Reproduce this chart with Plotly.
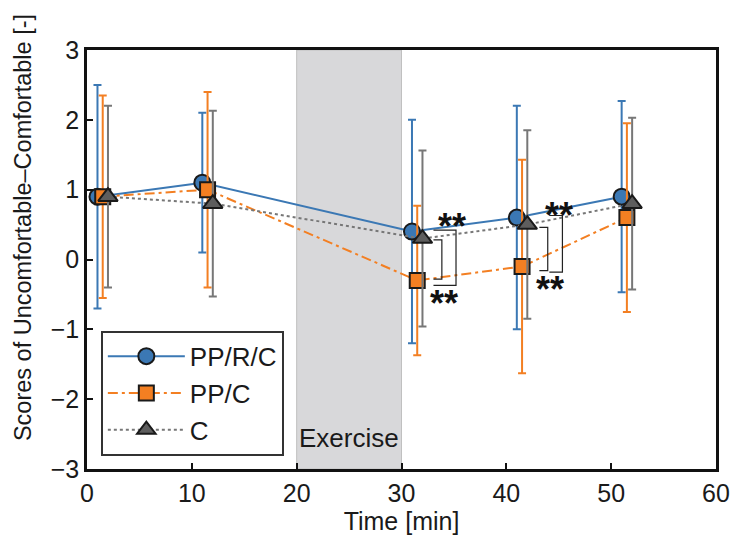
import plotly.graph_objects as go

# ---- data ----
times = [1, 11, 31, 41, 51]
offsets = {"PP/R/C": 0.0, "PP/C": 0.5, "C": 1.0}
mean_prc = [0.9, 1.1, 0.4, 0.6, 0.9]
sd_prc = [1.6, 1.0, 1.6, 1.6, 1.37]
mean_pc = [0.9, 1.0, -0.3, -0.1, 0.6]
sd_pc = [1.45, 1.4, 1.07, 1.53, 1.35]
mean_c = [0.9, 0.8, 0.3, 0.5, 0.8]
sd_c = [1.3, 1.33, 1.26, 1.35, 1.23]

exercise_start, exercise_end = 20, 30
x_ticks = [0, 10, 20, 30, 40, 50, 60]
y_ticks = [-3, -2, -1, 0, 1, 2, 3]

# significance brackets: (x0, x1, y_top, y_bottom)
brackets = [
    (33.05, 35.2, 0.42, -0.37),
    (33.05, 33.85, 0.28, -0.28),
    (44.1, 45.35, 0.63, -0.18),
    (43.15, 43.95, 0.46, -0.16),
]
# asterisk labels: (x, y)
stars = [(34.8, 0.6), (34.1, -0.5), (45.0, 0.76), (44.2, -0.3)]

FONT = "Liberation Sans, Arial, sans-serif"
BLUE = "#3b78b4"
ORANGE = "#f37f22"
GRAY_LINE = "#777777"
GRAY_FILL = "#5e5e5e"
TXT = "#1a1a1a"

fig = go.Figure()

series = [
    ("PP/R/C", mean_prc, sd_prc, BLUE, BLUE, "circle", "solid", 16),
    ("PP/C", mean_pc, sd_pc, ORANGE, ORANGE, "square", "10px,4px,3px,4px", 15),
    ("C", mean_c, sd_c, GRAY_LINE, GRAY_FILL, "triangle-up", "3px,3px", 17),
]
for name, m, s, lc, fc, sym, dash, sz in series:
    xs = [t + offsets[name] for t in times]
    fig.add_trace(go.Scatter(
        x=xs, y=m, name=name, mode="lines+markers",
        line=dict(color=lc, width=2, dash=dash),
        marker=dict(symbol=sym, size=sz, color=fc,
                    line=dict(color="#1a1a1a", width=2)),
        error_y=dict(type="data", array=s, visible=True, color=lc,
                     thickness=2, width=4),
    ))

# exercise shading
fig.add_shape(type="rect", xref="x", yref="paper", x0=exercise_start, x1=exercise_end,
              y0=0, y1=1, fillcolor="#d8d8da", line=dict(color="#c0c0c0", width=1),
              layer="below")
fig.add_annotation(x=(exercise_start + exercise_end) / 2, y=-2.56, text="Exercise",
                   showarrow=False, font=dict(family=FONT, size=26, color=TXT))

# brackets
for x0, x1, yt, yb in brackets:
    fig.add_shape(type="path",
                  path=f"M {x0},{yt} L {x1},{yt} L {x1},{yb} L {x0},{yb}",
                  line=dict(color="#222222", width=1.2))
for sx, sy in stars:
    fig.add_annotation(x=sx, y=sy, text="<b>**</b>", showarrow=False, yshift=-9,
                       font=dict(family=FONT, size=36, color="#111111"))

# y-axis title as rotated text
fig.add_annotation(xref="paper", yref="paper", x=-0.102, y=0.577,
                   text="Scores of Uncomfortable–Comfortable [-]", textangle=-90,
                   showarrow=False, xanchor="center", yanchor="middle",
                   font=dict(family=FONT, size=23.5, color=TXT))

axis_common = dict(showline=True, mirror=True, linecolor="#111111", linewidth=2.5,
                   ticks="inside", ticklen=6, tickwidth=2, tickcolor="#111111",
                   showgrid=False, zeroline=False,
                   tickfont=dict(family=FONT, size=25, color=TXT))

fig.update_layout(
    width=742, height=540,
    margin=dict(l=87, r=16, t=50, b=69),
    plot_bgcolor="white", paper_bgcolor="white",
    xaxis=dict(range=[0, 60], tickvals=x_ticks,
               title=dict(text="Time [min]", font=dict(family=FONT, size=25, color=TXT),
                          standoff=4),
               **axis_common),
    yaxis=dict(range=[-3, 3], tickvals=y_ticks, **axis_common),
    legend=dict(x=0.022, y=0.33, xanchor="left", yanchor="top",
                bgcolor="white", bordercolor="#333333", borderwidth=2,
                font=dict(family=FONT, size=26, color=TXT),
                itemwidth=77, tracegroupgap=0),
    showlegend=True,
)

fig.write_html("out.html")
